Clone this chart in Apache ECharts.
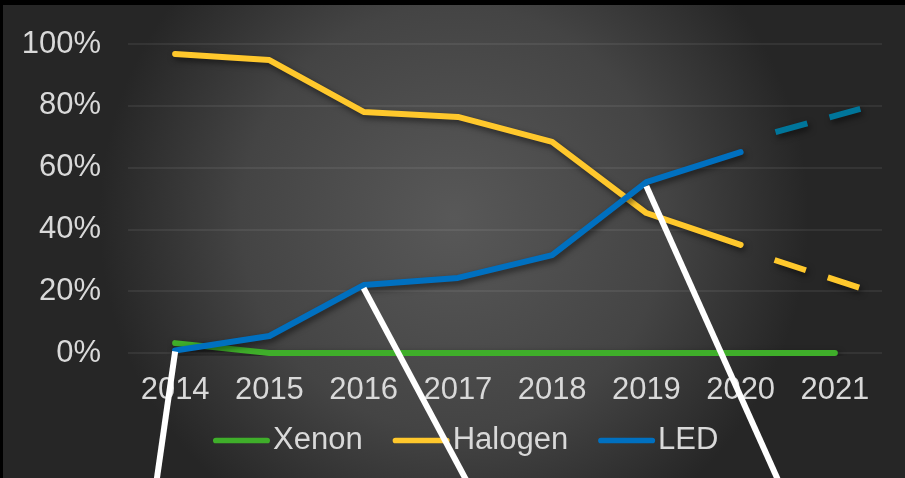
<!DOCTYPE html>
<html>
<head>
<meta charset="utf-8">
<script src="https://cdn.jsdelivr.net/npm/echarts@6/dist/echarts.min.js"></script>
<style>
  html, body { margin: 0; padding: 0; background: #000; }
  #chart { position: absolute; left: 3px; top: 5px; width: 902px; height: 473px; }
</style>
</head>
<body>
<div id="chart"></div>
<script>
// 年份
const categories = ['2014', '2015', '2016', '2017', '2018', '2019', '2020', '2021']
const yTicks = [0, 20, 40, 60, 80, 100]

// 各光源占比 (%)
const xenon = [3.2, 0, 0, 0, 0, 0, 0, 0]
const halogen = [96.8, 94.8, 78, 76.4, 68.3, 45.3, 35, null]
const led = [0.8, 5.5, 22, 24.3, 31.7, 55.3, 65, null]

// 预测虚线 [x(类目序号), y]
const halogenForecast = [[6.36, 30.1], [7.27, 21.0]]
const ledForecast = [[6.37, 71.5], [7.27, 79.0]]

// 白色引线
const callouts = [
  [[0, 0.5], [-0.214, -45]],
  [[2, 21], [3.156, -45]],
  [[5, 54], [6.454, -45]]
]

const labelColor = '#d9d9d9'
const font = 'Liberation Sans, Arial, sans-serif'
const shadow = { shadowColor: 'rgba(0,0,0,0.55)', shadowBlur: 6, shadowOffsetX: 2, shadowOffsetY: 3 }

function solidLine (name, data, color) {
  return {
    name,
    type: 'line',
    data,
    symbol: 'none',
    color,
    z: 3,
    lineStyle: Object.assign({ width: 6, color, cap: 'round', join: 'round' }, shadow)
  }
}

function dashLine (name, data, color) {
  return {
    name,
    type: 'line',
    xAxisIndex: 1,
    data,
    symbol: 'none',
    color,
    z: 3,
    lineStyle: Object.assign({ width: 6, color, type: [33, 23], cap: 'butt' }, shadow)
  }
}

const chart = echarts.init(document.getElementById('chart'))
chart.setOption({
  backgroundColor: {
    type: 'radial', x: 0.5, y: 0.45, r: 0.75,
    colorStops: [
      { offset: 0, color: '#585858' },
      { offset: 0.6, color: '#444444' },
      { offset: 1, color: '#262626' }
    ]
  },
  animation: false,
  textStyle: { fontFamily: font },
  grid: { left: 125, right: 23, top: 39, bottom: 125 },
  legend: {
    data: ['Xenon', 'Halogen', 'LED'],
    left: 205,
    top: 415,
    itemWidth: 57,
    itemHeight: 6,
    itemGap: 30,
    icon: 'path://M3,0 L57,0 A3,3 0 0 1 57,6 L3,6 A3,3 0 0 1 3,0 Z',
    textStyle: { color: labelColor, fontSize: 31, fontFamily: font, padding: [0, 0, 0, -2] }
  },
  xAxis: [
    {
      type: 'category',
      data: categories,
      boundaryGap: true,
      axisLine: { show: false },
      axisTick: { show: false },
      axisLabel: { color: labelColor, fontSize: 31, margin: 22, fontFamily: font }
    },
    {
      type: 'value',
      min: -0.5,
      max: 7.5,
      show: false
    }
  ],
  yAxis: {
    type: 'value',
    min: yTicks[0],
    max: yTicks[yTicks.length - 1],
    interval: 20,
    axisLine: { show: false },
    axisTick: { show: false },
    axisLabel: { color: labelColor, fontSize: 31, margin: 27, fontFamily: font, formatter: '{value}%' },
    splitLine: { lineStyle: { color: 'rgba(255,255,255,0.09)', width: 1.5 } }
  },
  series: [
    solidLine('Xenon', xenon, '#3fae2a'),
    solidLine('Halogen', halogen, '#ffc82c'),
    solidLine('LED', led, '#0070c0'),
    dashLine('Halogen 预测', halogenForecast, '#ffc82c'),
    dashLine('LED 预测', ledForecast, '#00759a')
  ].concat(callouts.map((pts, i) => ({
    name: 'callout' + i,
    type: 'line',
    xAxisIndex: 1,
    data: pts,
    symbol: 'none',
    clip: false,
    z: 20,
    lineStyle: { width: 6, color: '#ffffff', cap: 'butt' }
  })))
})
</script>
</body>
</html>
